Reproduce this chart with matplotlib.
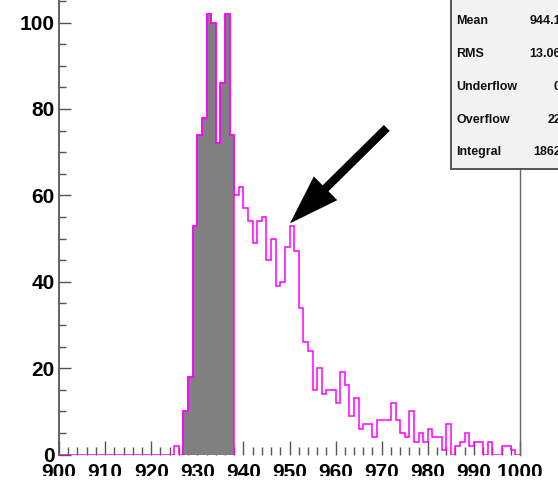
import matplotlib
matplotlib.use("Agg")
import matplotlib.pyplot as plt
import numpy as np
from matplotlib.ticker import MultipleLocator, FixedLocator
from matplotlib.patches import Rectangle

# ---------------- data ----------------
bin_lo, bin_hi = 900, 1000
counts = [0] * 25 + [
    2, 0, 10, 18, 53, 74, 78, 102, 100, 72, 86, 102, 74,      # 925-937
    60, 62, 57, 54, 49, 54, 55, 45, 50, 39, 40, 48, 53, 47,  # 938-951
    34, 26, 24, 15, 20, 14, 15, 15, 12, 19, 16, 9, 13,       # 952-964
    6, 7, 7, 4, 8, 8, 8, 12, 8, 5, 4, 10, 3, 5, 3,           # 965-979
    6, 4, 4, 1, 7, 0, 2, 3, 5, 2, 3, 3, 0, 3, 0, 0, 2, 2, 1, 0  # 980-999
]
fill_lo, fill_hi = 927, 938
x_ticks = list(range(900, 1001, 10))
y_ticks = list(range(0, 101, 20))
stat_names = ["Mean", "RMS", "Underflow", "Overflow", "Integral"]
stat_values = ["944.1", "13.06", "0", "22", "1862"]
arrow_tip = (950.1, 53.5)
arrow_tail = (971.1, 75.6)

# ---------------- figure ----------------
W, H = 558, 483
fig = plt.figure(figsize=(W / 100, H / 100), dpi=100)
plt.rcParams["font.family"] = ["Liberation Sans", "DejaVu Sans"]

ymax = 1.05 * max(counts)
px_per_unit = 4.32
ax = fig.add_axes([59 / W, 28.5 / H, 461 / W, ymax * px_per_unit / H])

edges = np.arange(bin_lo, bin_hi + 1)
vals = np.array(counts, dtype=float)
mag = "#ff00ff"

mask = (edges[:-1] >= fill_lo) & (edges[:-1] < fill_hi)
fill_edges = np.arange(fill_lo, fill_hi + 1)
fill_vals = vals[mask]
ax.stairs(fill_vals, fill_edges, fill=True, facecolor="#808080",
          edgecolor="none", zorder=2)
ax.stairs(fill_vals, fill_edges, fill=False, baseline=0, color=mag,
          lw=1.1, zorder=3)
ax.stairs(vals, edges, fill=False, baseline=0, color=mag, lw=1.1, zorder=3)

ax.set_xlim(bin_lo, bin_hi)
ax.set_ylim(0, ymax)

ax.xaxis.set_major_locator(FixedLocator(x_ticks))
ax.xaxis.set_minor_locator(MultipleLocator(2))
ax.yaxis.set_major_locator(FixedLocator(y_ticks))
ax.yaxis.set_minor_locator(MultipleLocator(5))
ax.set_xticklabels([str(t) for t in x_ticks])
ax.set_yticklabels([str(t) for t in y_ticks])

tc = "#555555"
ax.tick_params(axis="x", which="major", direction="in", length=10, width=1,
               color=tc, pad=6, labelsize=15)
ax.tick_params(axis="x", which="minor", direction="in", length=5.5, width=1,
               color=tc)
ax.tick_params(axis="y", which="major", direction="in", length=8.6, width=1,
               color=tc, pad=3, labelsize=15)
ax.tick_params(axis="y", which="minor", direction="in", length=5, width=1,
               color=tc)
ax.tick_params(top=False, right=False)
for lab in ax.get_xticklabels() + ax.get_yticklabels():
    lab.set_fontweight("bold")

ax.spines["bottom"].set_visible(False)
ax.spines["top"].set_visible(False)
ax.spines["left"].set_color(tc)
ax.spines["left"].set_linewidth(1.3)
ax.spines["right"].set_color("#666666")
ax.spines["right"].set_linewidth(1.0)

# the reference canvas ends just below the x labels, cutting them off
fig.add_artist(Rectangle((0, 0), 1, 7.5 / H, transform=fig.transFigure,
                         facecolor="white", edgecolor="none", zorder=20))

# arrow
ax.annotate("", xy=arrow_tip, xytext=arrow_tail,
            arrowprops=dict(facecolor="black", edgecolor="black", lw=0,
                            width=6.0, headwidth=24, headlength=36, shrink=0),
            zorder=5)

# stats box
box = Rectangle((451 / W, (H - 169) / H), 0.3, 0.5, transform=fig.transFigure,
                facecolor="#f2f2f2", edgecolor="#555555", lw=1.4, zorder=10)
fig.add_artist(box)
ys = [21, 54.3, 87.3, 120, 152]
for name, val, yy in zip(stat_names, stat_values, ys):
    fig.text(456.5 / W, 1 - yy / H, name, ha="left", va="center",
             fontsize=9, fontweight="bold", color="#111111", zorder=11)
    fig.text(561 / W, 1 - yy / H, val, ha="right", va="center",
             fontsize=9, fontweight="bold", color="#111111", zorder=11)

fig.savefig("out.png", dpi=100)
